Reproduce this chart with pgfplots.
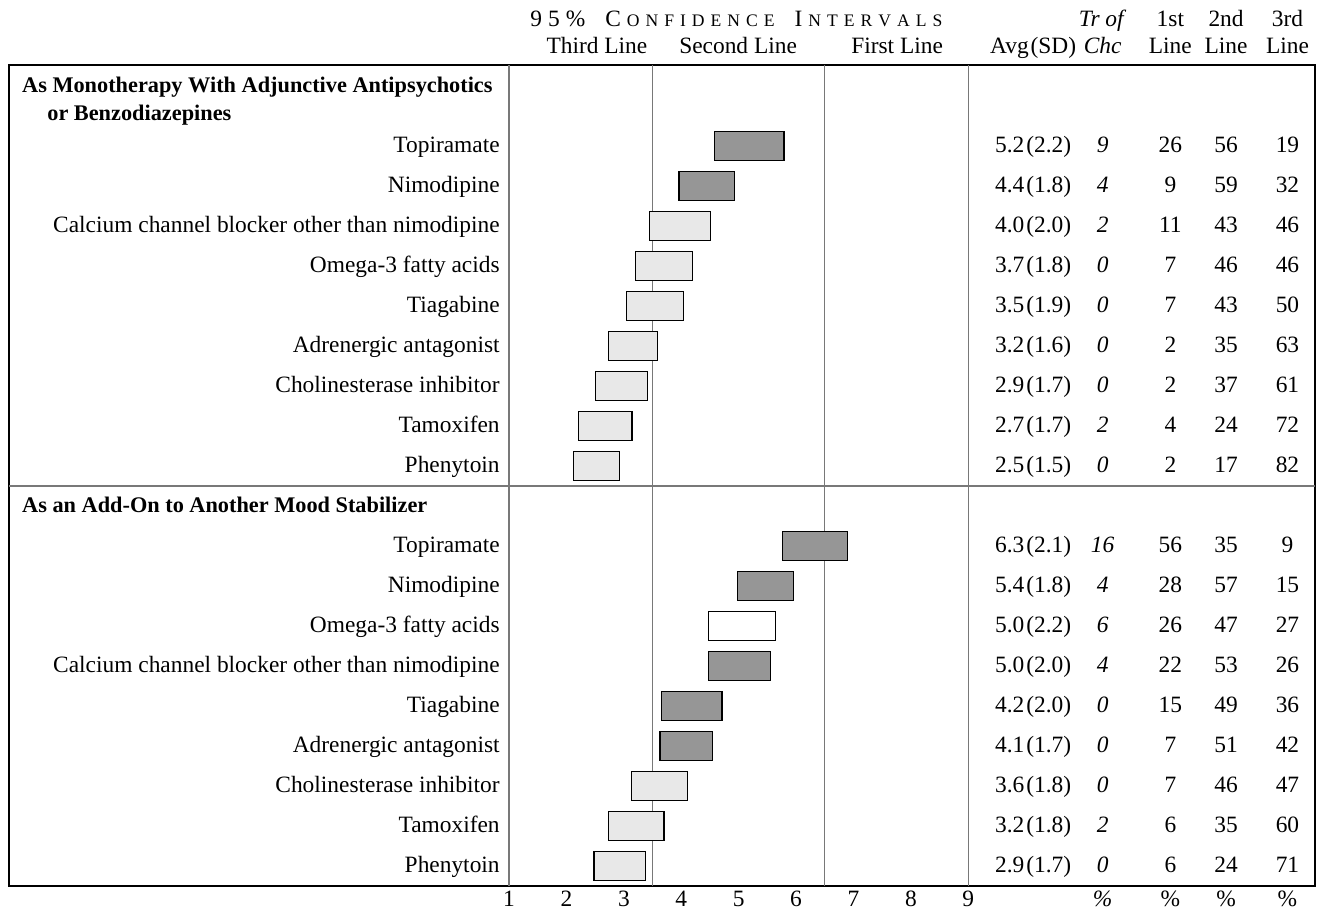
\documentclass[border=0pt]{standalone}
\usepackage{fontspec}
\setmainfont{Liberation Serif}
\usepackage{pgfplots}
\pgfplotsset{compat=1.18}
\definecolor{darkbox}{RGB}{150,150,150}
\definecolor{lightbox}{RGB}{232,232,232}
\definecolor{rulegray}{RGB}{120,120,120}
\newcommand{\fs}{\fontsize{11.7}{14}\selectfont}
\newcommand{\fsb}{\fontsize{11.15}{14}\selectfont\bfseries}
\makeatletter
\newcommand{\spaced}[2]{\@tfor\@ch:=#2\do{\@ch\kern#1}}
\makeatother
\tikzset{lbl/.style={font=\fs, inner sep=0pt, text height=0.66em, text depth=0pt}}
% y, label, avg, tr of chc, 1st, 2nd, 3rd
\newcommand{\rowdata}[7]{%
  \node[lbl, anchor=east] at (axis cs:0.843,#1) {#2};
  \node[lbl] at (axis cs:10.13,#1) {#3};
  \node[lbl] at (axis cs:11.34,#1) {\textit{#4}};
  \node[lbl] at (axis cs:12.52,#1) {#5};
  \node[lbl] at (axis cs:13.49,#1) {#6};
  \node[lbl] at (axis cs:14.56,#1) {#7};}
% lo, hi, ylow, yhigh, fill
\newcommand{\cibox}[5]{%
  \addplot[fill=#5, draw=black, line width=0.6pt, line join=miter]
    coordinates {(#1,#3) (#2,#3) (#2,#4) (#1,#4)} --cycle;}
\begin{document}
\begin{tikzpicture}[font=\fs]
\path[use as bounding box] (-4.65pt,-12.5pt) rectangle (655.35pt,443pt);
\begin{axis}[
  at={(0,0)}, anchor=south west,
  scale only axis, width=652.85pt, height=410.5pt,
  xmin=-7.706, xmax=15.04, ymin=0, ymax=20.525,
  clip=false,
  axis line style={black, line width=0.9pt},
  ytick=\empty,
  xtick={1,2,3,4,5,6,7,8,9,11.34,12.52,13.49,14.56},
  xticklabels={1,2,3,4,5,6,7,8,9,\textit{\%},\%,\%,\%},
  major tick length=0pt,
  tick style={draw=none},
  xticklabel style={font=\fs, inner sep=0pt, text height=0.66em, text depth=0pt, yshift=-3.5pt, anchor=north},
]
% column rules
\addplot[rulegray, line width=0.6pt] coordinates {(1,0) (1,20.525)};
\addplot[rulegray, line width=0.6pt] coordinates {(3.5,0) (3.5,20.525)};
\addplot[rulegray, line width=0.6pt] coordinates {(6.5,0) (6.5,20.525)};
\addplot[rulegray, line width=0.6pt] coordinates {(9,0) (9,20.525)};
\addplot[rulegray, line width=0.7pt] coordinates {(-7.706,10) (15.04,10)};
% section 1 boxes
\cibox{4.58}{5.79}{18.133}{18.867}{darkbox}
\cibox{3.96}{4.93}{17.133}{17.867}{darkbox}
\cibox{3.44}{4.51}{16.133}{16.867}{lightbox}
\cibox{3.20}{4.19}{15.133}{15.867}{lightbox}
\cibox{3.05}{4.04}{14.133}{14.867}{lightbox}
\cibox{2.73}{3.59}{13.133}{13.867}{lightbox}
\cibox{2.50}{3.41}{12.133}{12.867}{lightbox}
\cibox{2.21}{3.14}{11.133}{11.867}{lightbox}
\cibox{2.12}{2.93}{10.133}{10.867}{lightbox}
% section 2 boxes
\cibox{5.76}{6.90}{8.133}{8.867}{darkbox}
\cibox{4.98}{5.95}{7.133}{7.867}{darkbox}
\cibox{4.47}{5.64}{6.133}{6.867}{white}
\cibox{4.48}{5.55}{5.133}{5.867}{darkbox}
\cibox{3.65}{4.71}{4.133}{4.867}{darkbox}
\cibox{3.63}{4.55}{3.133}{3.867}{darkbox}
\cibox{3.13}{4.11}{2.133}{2.867}{lightbox}
\cibox{2.73}{3.70}{1.133}{1.867}{lightbox}
\cibox{2.48}{3.37}{0.133}{0.867}{lightbox}
% headers
\node[lbl] at (axis cs:4.96,21.65) {9\kern3pt5\kern3pt\%\kern10pt C\kern3pt{\fontsize{8.8}{10}\selectfont\spaced{3pt}{ONFIDENCE}}\kern7pt I\kern3pt{\fontsize{8.8}{10}\selectfont\spaced{3pt}{NTERVAL}S}};
\node[lbl] at (axis cs:2.53,20.975) {Third Line};
\node[lbl] at (axis cs:4.99,20.975) {Second Line};
\node[lbl] at (axis cs:7.76,20.975) {First Line};
\node[lbl] at (axis cs:10.13,20.975) {Avg\kern1pt(SD)};
\node[lbl] at (axis cs:11.34,21.65) {\textit{Tr of}};
\node[lbl] at (axis cs:11.34,20.975) {\textit{Chc}};
\node[lbl] at (axis cs:12.52,21.65) {1st};
\node[lbl] at (axis cs:12.52,20.975) {Line};
\node[lbl] at (axis cs:13.49,21.65) {2nd};
\node[lbl] at (axis cs:13.49,20.975) {Line};
\node[lbl] at (axis cs:14.56,21.65) {3rd};
\node[lbl] at (axis cs:14.56,20.975) {Line};
% section headers
\node[lbl, font=\fsb, anchor=west] at (axis cs:-7.488,20.0) {As Monotherapy With Adjunctive Antipsychotics};
\node[lbl, font=\fsb, anchor=west] at (axis cs:-7.05,19.3) {or Benzodiazepines};
\node[lbl, font=\fsb, anchor=west] at (axis cs:-7.488,9.5) {As an Add-On to Another Mood Stabilizer};
% section 1 rows
\rowdata{18.5}{Topiramate}{5.2\kern1pt(2.2)}{9}{26}{56}{19}
\rowdata{17.5}{Nimodipine}{4.4\kern1pt(1.8)}{4}{9}{59}{32}
\rowdata{16.5}{Calcium channel blocker other than nimodipine}{4.0\kern1pt(2.0)}{2}{11}{43}{46}
\rowdata{15.5}{Omega-3 fatty acids}{3.7\kern1pt(1.8)}{0}{7}{46}{46}
\rowdata{14.5}{Tiagabine}{3.5\kern1pt(1.9)}{0}{7}{43}{50}
\rowdata{13.5}{Adrenergic antagonist}{3.2\kern1pt(1.6)}{0}{2}{35}{63}
\rowdata{12.5}{Cholinesterase inhibitor}{2.9\kern1pt(1.7)}{0}{2}{37}{61}
\rowdata{11.5}{Tamoxifen}{2.7\kern1pt(1.7)}{2}{4}{24}{72}
\rowdata{10.5}{Phenytoin}{2.5\kern1pt(1.5)}{0}{2}{17}{82}
% section 2 rows
\rowdata{8.5}{Topiramate}{6.3\kern1pt(2.1)}{16}{56}{35}{9}
\rowdata{7.5}{Nimodipine}{5.4\kern1pt(1.8)}{4}{28}{57}{15}
\rowdata{6.5}{Omega-3 fatty acids}{5.0\kern1pt(2.2)}{6}{26}{47}{27}
\rowdata{5.5}{Calcium channel blocker other than nimodipine}{5.0\kern1pt(2.0)}{4}{22}{53}{26}
\rowdata{4.5}{Tiagabine}{4.2\kern1pt(2.0)}{0}{15}{49}{36}
\rowdata{3.5}{Adrenergic antagonist}{4.1\kern1pt(1.7)}{0}{7}{51}{42}
\rowdata{2.5}{Cholinesterase inhibitor}{3.6\kern1pt(1.8)}{0}{7}{46}{47}
\rowdata{1.5}{Tamoxifen}{3.2\kern1pt(1.8)}{2}{6}{35}{60}
\rowdata{0.5}{Phenytoin}{2.9\kern1pt(1.7)}{0}{6}{24}{71}
\end{axis}
\end{tikzpicture}
\end{document}
